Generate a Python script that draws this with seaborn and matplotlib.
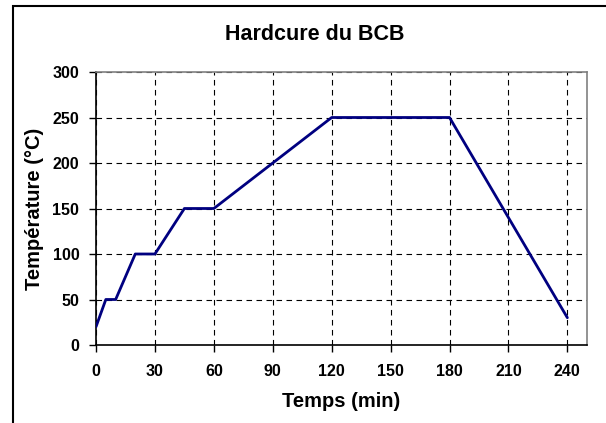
import matplotlib
matplotlib.use('Agg')
import matplotlib.pyplot as plt
import seaborn as sns
import pandas as pd
from matplotlib.patches import Rectangle

# --- données ---
temps_min = [0, 5, 10, 20, 30, 45, 60, 120, 180, 240]
temperature_c = [20, 50, 50, 100, 100, 150, 150, 250, 250, 30]
ticks_x = [0, 30, 60, 90, 120, 150, 180, 210, 240]
ticks_y = [0, 50, 100, 150, 200, 250, 300]

cor_linha = '#000080'

sns.set_style('white')
plt.rcParams['font.family'] = ['Liberation Sans', 'DejaVu Sans']
plt.rcParams['font.weight'] = 'bold'
plt.rcParams['text.color'] = 'black'
plt.rcParams['axes.labelcolor'] = 'black'
plt.rcParams['xtick.color'] = 'black'
plt.rcParams['ytick.color'] = 'black'

df = pd.DataFrame({'Temps (min)': temps_min, 'Température (°C)': temperature_c})

fig = plt.figure(figsize=(6.06, 4.23), dpi=100)
ax = fig.add_axes([96 / 606, 1 - 345 / 423, (587 - 96) / 606, (345 - 72) / 423])

sns.lineplot(data=df, x='Temps (min)', y='Température (°C)', ax=ax,
             color=cor_linha, linewidth=2.0, sort=False, zorder=3)

ax.set_xlim(0, 250)
ax.set_ylim(0, 300)
ax.set_xticks(ticks_x)
ax.set_yticks(ticks_y)
ax.tick_params(axis='both', direction='out', length=5, width=1, color='black',
               labelcolor='black', labelsize=11.5, left=True, bottom=True)
ax.tick_params(axis='x', pad=9)
ax.tick_params(axis='y', pad=7)
for lbl in ax.get_xticklabels() + ax.get_yticklabels():
    lbl.set_fontweight('bold')

ax.grid(True, color='black', linestyle=(0, (5, 4)), linewidth=0.8)
ax.set_axisbelow(True)

ax.spines['left'].set_color('black')
ax.spines['bottom'].set_color('black')
ax.spines['left'].set_linewidth(1.2)
ax.spines['bottom'].set_linewidth(1.2)
ax.spines['top'].set_color('#808080')
ax.spines['right'].set_color('#808080')
ax.spines['top'].set_linewidth(1.2)
ax.spines['right'].set_linewidth(1.2)

ax.set_xlabel('Temps (min)', fontsize=14.5, fontweight='bold', color='black', labelpad=9)
ax.set_ylabel('Température (°C)', fontsize=14.5, fontweight='bold', color='black', labelpad=6)
fig.text(315 / 606, 1 - 34 / 423, 'Hardcure du BCB', ha='center', va='center',
         fontsize=15.5, fontweight='bold', color='black')

# cadre extérieur du graphique
fig.patches.append(Rectangle((13 / 606, -0.1), 1.2, 1.1 - 6 / 423, transform=fig.transFigure,
                             fill=False, edgecolor='black', linewidth=1.5))

fig.savefig('out.png', dpi=100)
